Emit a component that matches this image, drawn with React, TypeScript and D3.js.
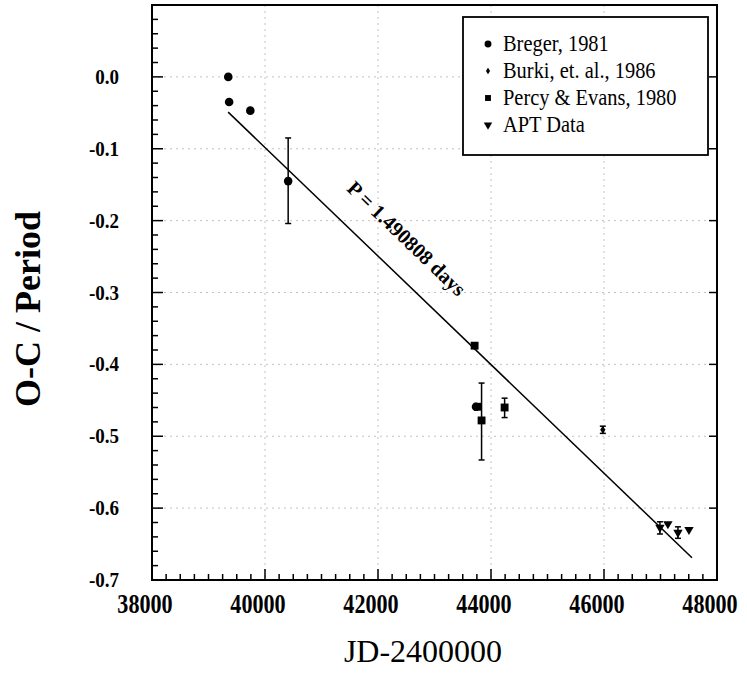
import React from "react";
import * as d3 from "d3";

const W = 747;
const H = 674;

const xTicks = [38000, 40000, 42000, 44000, 46000, 48000];
const yTicks = [0.0, -0.1, -0.2, -0.3, -0.4, -0.5, -0.6, -0.7];

const bregerX = [39350, 39365, 39740, 40410, 43735];
const bregerY = [0.0, -0.035, -0.047, -0.145, -0.459];
const bregerLo = [null, null, null, -0.204, null];
const bregerHi = [null, null, null, -0.085, null];

const burkiX = [45979];
const burkiY = [-0.491];
const burkiLo = [-0.496];
const burkiHi = [-0.486];

const percyX = [43710, 43765, 43833, 44241];
const percyY = [-0.374, -0.459, -0.478, -0.46];
const percyLo = [null, null, -0.533, -0.474];
const percyHi = [null, null, -0.426, -0.447];

const aptX = [46990, 47131, 47309, 47504];
const aptY = [-0.627, -0.622, -0.634, -0.63];
const aptLo = [-0.636, null, -0.642, null];
const aptHi = [-0.619, null, -0.626, null];

const fitX = [39348, 47557];
const fitY = [-0.049, -0.669];

const annText = "P = 1.490808 days";
const annX = 42420;
const annY = -0.232;

const legendLabels = ["Breger, 1981", "Burki, et. al., 1986", "Percy & Evans, 1980", "APT Data"];

export default function App() {
  const x = d3.scaleLinear().domain([38000, 48000]).range([152, 717]);
  const y = d3.scaleLinear().domain([-0.7, 0.1]).range([580, 5]);
  const serif = "'Liberation Serif', 'DejaVu Serif', serif";

  const minorX = d3.range(38000, 48001, 250).filter((v) => v % 2000 !== 0);
  const minorY = d3.range(-70, 11, 2).map((v) => v / 100).filter((v) => Math.round(v * 100) % 10 !== 0);

  const circle = d3.symbol().type(d3.symbolCircle).size(58)();
  const square = d3.symbol().type(d3.symbolSquare).size(62)();
  const tri = d3.symbol().type(d3.symbolTriangle).size(38)();
  const diamond = "M0,-4L2.6,0L0,4L-2.6,0Z";

  const errBars = (xs, los, his, key) =>
    xs.map((xv, i) =>
      los[i] == null ? null : (
        <g key={key + i} stroke="#000" strokeWidth={1.5}>
          <line x1={x(xv)} x2={x(xv)} y1={y(los[i])} y2={y(his[i])} />
          <line x1={x(xv) - 3} x2={x(xv) + 3} y1={y(los[i])} y2={y(los[i])} />
          <line x1={x(xv) - 3} x2={x(xv) + 3} y1={y(his[i])} y2={y(his[i])} />
        </g>
      )
    );

  const line = d3.line()([[x(fitX[0]), y(fitY[0])], [x(fitX[1]), y(fitY[1])]]);
  const angle =
    (Math.atan2(y(fitY[1]) - y(fitY[0]), x(fitX[1]) - x(fitX[0])) * 180) / Math.PI;

  const legSymbols = [circle, diamond, square, tri];
  const legRot = [0, 0, 0, 180];
  const legScale = [0.8, 0.8, 0.75, 0.9];

  return (
    <svg width={W} height={H} style={{ position: "absolute", left: 0, top: 0, background: "#fff" }}>
      <rect x={0} y={0} width={W} height={H} fill="#fff" />
      {/* grid */}
      <g stroke="#888" strokeWidth={1} strokeDasharray="2 4" opacity={0.5}>
        {xTicks.slice(1, -1).map((t) => (
          <line key={"gx" + t} x1={x(t)} x2={x(t)} y1={y(0.1)} y2={y(-0.7)} />
        ))}
        {yTicks.slice(0, -1).map((t) => (
          <line key={"gy" + t} x1={x(38000)} x2={x(48000)} y1={y(t)} y2={y(t)} />
        ))}
      </g>
      {/* frame */}
      <rect x={x(38000)} y={y(0.1)} width={x(48000) - x(38000)} height={y(-0.7) - y(0.1)} fill="none" stroke="#000" strokeWidth={2} />
      {/* ticks */}
      <g stroke="#000" strokeWidth={1.5}>
        {xTicks.map((t) => (
          <line key={"tx" + t} x1={x(t)} x2={x(t)} y1={y(-0.7)} y2={y(-0.7) - 11} />
        ))}
        {minorX.map((t) => (
          <line key={"mx" + t} x1={x(t)} x2={x(t)} y1={y(-0.7)} y2={y(-0.7) - 6} />
        ))}
        {yTicks.map((t) => (
          <line key={"ty" + t} x1={x(38000)} x2={x(38000) + 11} y1={y(t)} y2={y(t)} />
        ))}
        {minorY.map((t) => (
          <line key={"my" + t} x1={x(38000)} x2={x(38000) + 6} y1={y(t)} y2={y(t)} />
        ))}
        {yTicks.map((t) => (
          <line key={"ry" + t} x1={x(48000)} x2={x(48000) - 8} y1={y(t)} y2={y(t)} />
        ))}
      </g>
      {/* tick labels */}
      <g fontFamily={serif} fontWeight="bold" fill="#000">
        {xTicks.map((t) => (
          <text key={"lx" + t} transform={`translate(${x(t) - 7},${y(-0.7) + 33}) scale(0.82,1)`} textAnchor="middle" fontSize={27}>
            {t}
          </text>
        ))}
        {yTicks.map((t) => (
          <text key={"ly" + t} transform={`translate(${x(38000) - 33},${y(t) + 7}) scale(0.95,1.1)`} textAnchor="end" fontSize={20}>
            {d3.format(".1f")(t).replace("−", "-")}
          </text>
        ))}
      </g>
      {/* axis titles */}
      <text transform={`translate(40,309) rotate(-90)`} textAnchor="middle" fontFamily={serif} fontWeight="bold" fontSize={36} fill="#000">
        O-C / Period
      </text>
      <text x={423} y={662} textAnchor="middle" fontFamily={serif} fontSize={32} fill="#000">
        JD-2400000
      </text>
      {/* fit line */}
      <path d={line} stroke="#000" strokeWidth={1.5} fill="none" />
      <text
        transform={`translate(${x(annX)},${y(annY)}) rotate(${angle})`}
        textAnchor="middle"
        fontFamily={serif}
        fontWeight="bold"
        fontSize={20.5}
        fill="#000"
      >
        {annText}
      </text>
      {/* error bars */}
      {errBars(bregerX, bregerLo, bregerHi, "be")}
      {errBars(burkiX, burkiLo, burkiHi, "ue")}
      {errBars(percyX, percyLo, percyHi, "pe")}
      {errBars(aptX, aptLo, aptHi, "ae")}
      {/* points */}
      {bregerX.map((xv, i) => (
        <path key={"b" + i} d={circle} transform={`translate(${x(xv)},${y(bregerY[i])})`} fill="#000" />
      ))}
      {burkiX.map((xv, i) => (
        <path key={"u" + i} d={diamond} transform={`translate(${x(xv)},${y(burkiY[i])})`} fill="#000" />
      ))}
      {percyX.map((xv, i) => (
        <path key={"p" + i} d={square} transform={`translate(${x(xv)},${y(percyY[i])})`} fill="#000" />
      ))}
      {aptX.map((xv, i) => (
        <path key={"a" + i} d={tri} transform={`translate(${x(xv)},${y(aptY[i])}) rotate(180)`} fill="#000" />
      ))}
      {/* legend */}
      <rect x={463} y={17} width={245} height={138} fill="#fff" stroke="#000" strokeWidth={1.8} />
      {legendLabels.map((lab, i) => (
        <g key={"lg" + i}>
          <path
            d={legSymbols[i]}
            transform={`translate(488,${44 + i * 27}) rotate(${legRot[i]}) scale(${legScale[i]})`}
            fill="#000"
          />
          <text transform={`translate(503,${51 + i * 27}) scale(0.95,1.08)`} fontFamily={serif} fontSize={21.5} fill="#000">
            {lab}
          </text>
        </g>
      ))}
    </svg>
  );
}
